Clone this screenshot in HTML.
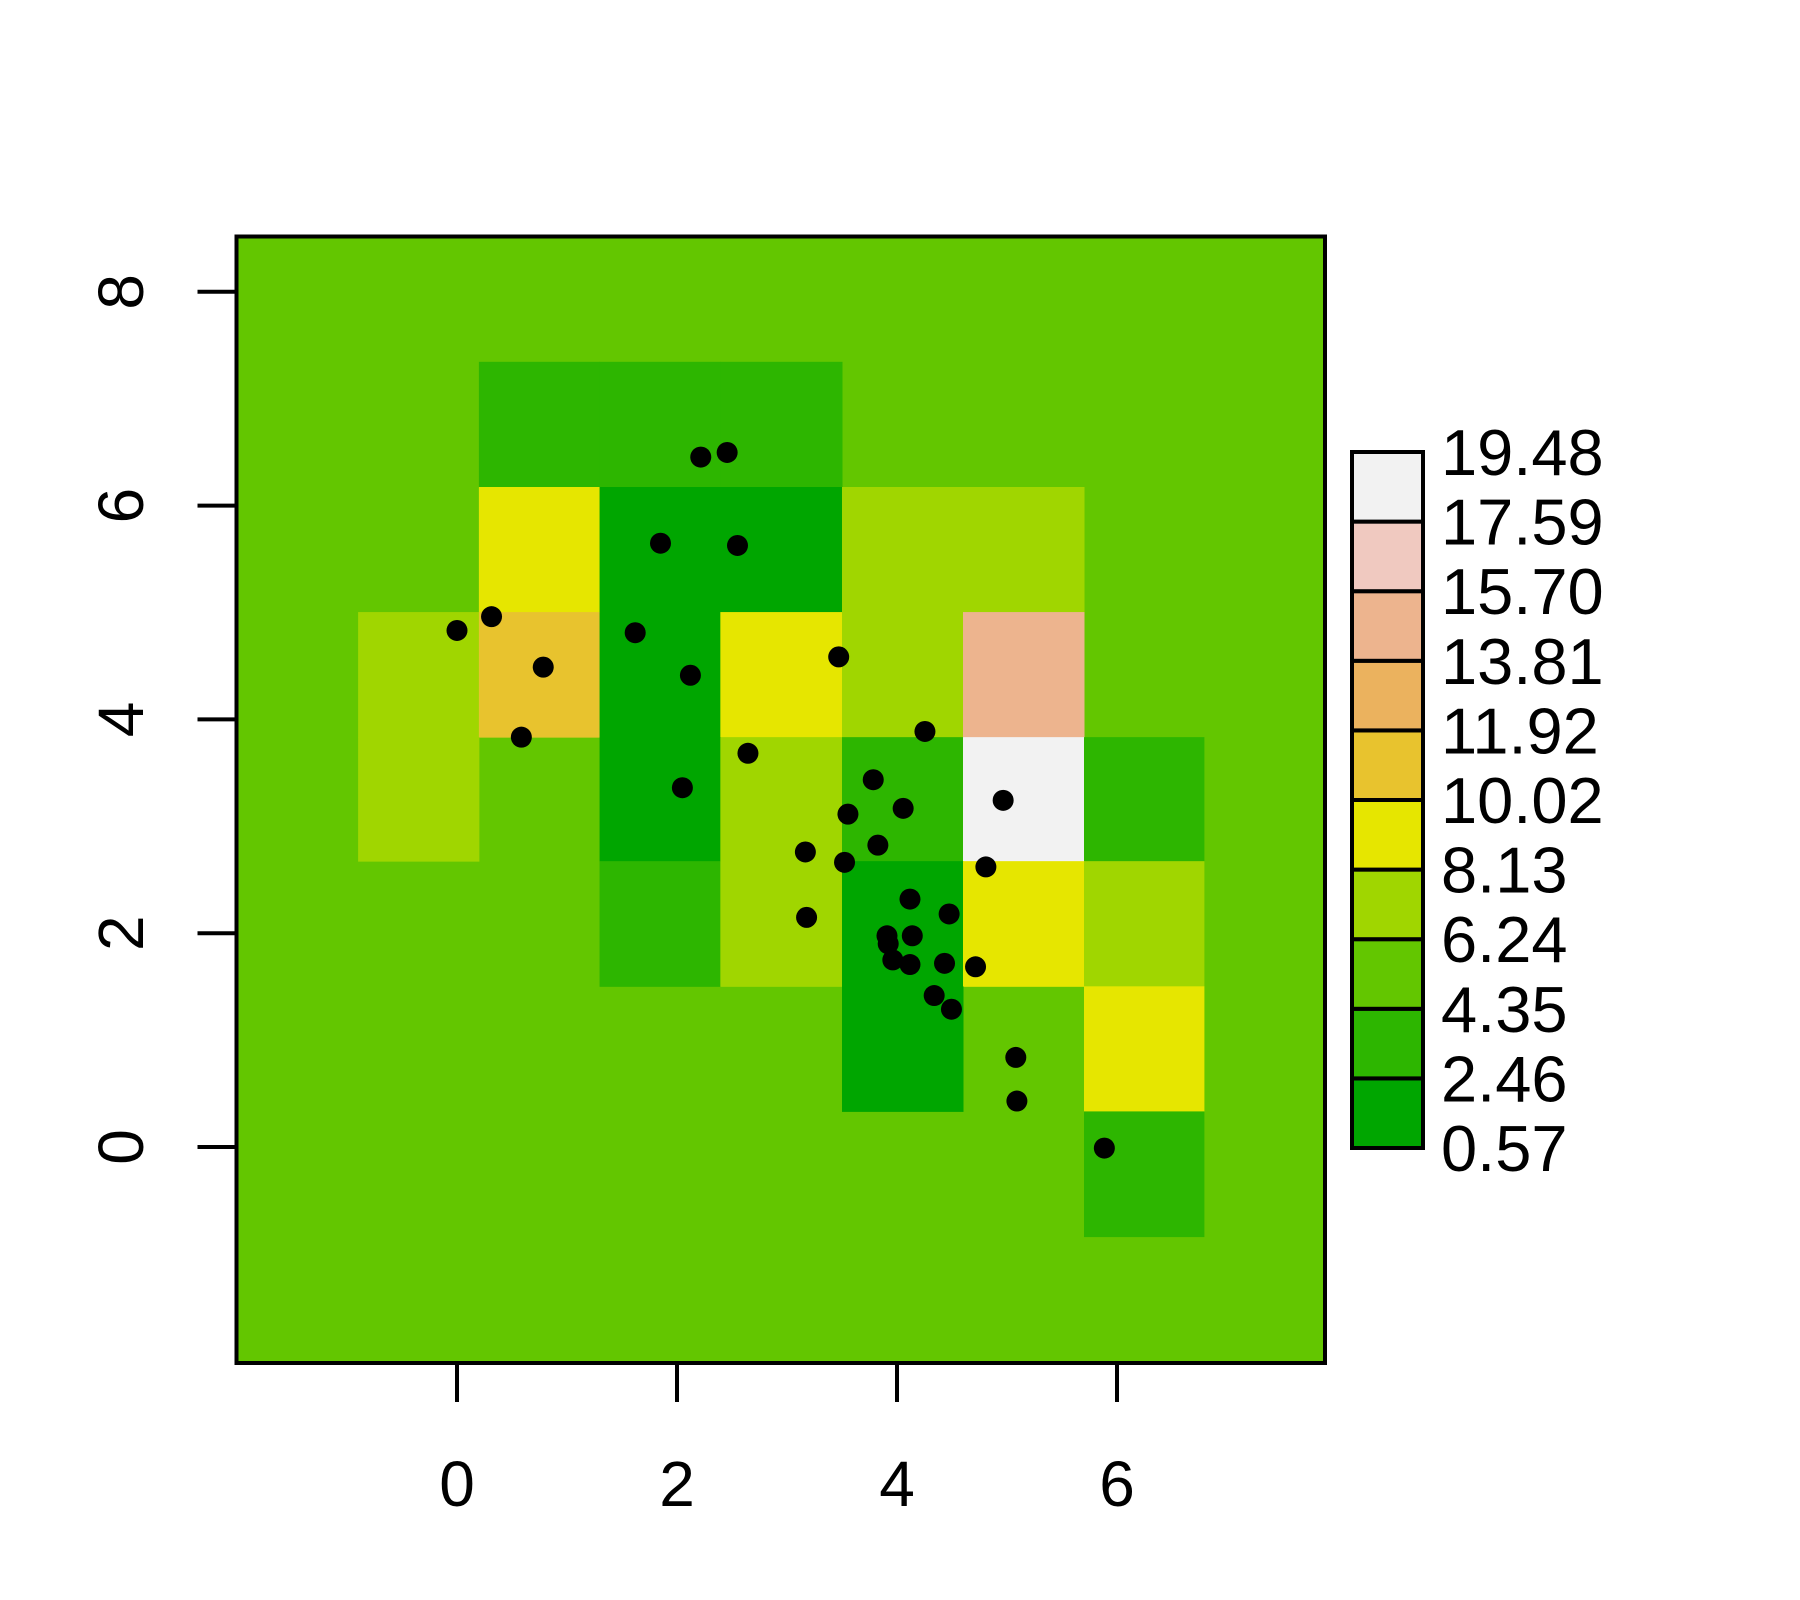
<!DOCTYPE html>
<html><head><meta charset="utf-8"><style>
html,body{margin:0;padding:0;background:#fff;}
svg{display:block;font-family:"Liberation Sans",Arial,sans-serif;}
</style></head><body>
<svg id="chart" width="1800" height="1600" viewBox="0 0 1800 1600"></svg>
<script>
// ---- data ----
const colEdges = [-0.899, 0.199, 1.296, 2.394, 3.50, 4.60, 5.70, 6.79];
const rowEdges = [7.345, 6.174, 5.004, 3.834, 2.674, 1.503, 0.333, -0.838];
const bgValue = 5.3;
// rows top->bottom, columns left->right (null = background)
const cellRow0 = [null, 3.4, 3.4, 3.4, null, null, null];
const cellRow1 = [null, 9.0, 1.5, 1.5, 7.2, 7.2, null];
const cellRow2 = [7.2, 11.0, 1.5, 9.0, 7.2, 14.7, null];
const cellRow3 = [7.2, null, 1.5, 7.2, 3.4, 18.5, 3.4];
const cellRow4 = [null, null, 3.4, 7.2, 1.5, 9.0, 7.2];
const cellRow5 = [null, null, null, null, 1.5, null, 9.0];
const cellRow6 = [null, null, null, null, null, null, 3.4];
const breaks = [0.57, 2.46, 4.35, 6.24, 8.13, 10.02, 11.92, 13.81, 15.70, 17.59, 19.48];
const breakLabels = ["0.57","2.46","4.35","6.24","8.13","10.02","11.92","13.81","15.70","17.59","19.48"];
const palette = ["#00A600","#2DB600","#63C600","#A0D600","#E6E600","#E8C32E","#EBB25E","#EDB48E","#F0C9C0","#F2F2F2"];
const pointsX = [2.216,2.456,1.850,2.550,0,0.314,0.784,0.585,1.620,2.122,2.049,3.470,2.645,4.254,3.784,3.554,4.056,3.826,3.167,3.523,4.965,4.808,3.178,4.118,4.474,3.909,3.920,4.139,3.962,4.118,4.432,4.714,4.338,4.495,5.080,5.090,5.885];
const pointsY = [6.454,6.497,5.648,5.627,4.832,4.961,4.489,3.834,4.811,4.413,3.361,4.585,3.683,3.887,3.436,3.114,3.168,2.824,2.760,2.663,3.243,2.620,2.148,2.319,2.180,1.976,1.901,1.976,1.750,1.707,1.718,1.686,1.417,1.289,0.838,0.430,-0.01];
const xTicks = [0, 2, 4, 6];
const yTicks = [0, 2, 4, 6, 8];

// ---- scales ----
const X0 = 457, XU = 110, Y0 = 1147, YU = 106.9;
const sx = v => X0 + v * XU;
const sy = v => Y0 - v * YU;
const box = {x1: 236.5, y1: 236.5, x2: 1325, y2: 1363};
const NS = "http://www.w3.org/2000/svg";
const svg = document.getElementById('chart');
function mk(tag, attrs, parent) {
  const e = document.createElementNS(NS, tag);
  for (const k in attrs) e.setAttribute(k, attrs[k]);
  (parent || svg).appendChild(e);
  return e;
}
function colorOf(v) {
  for (let i = 0; i < palette.length; i++) if (v <= breaks[i + 1]) return palette[i];
  return palette[palette.length - 1];
}

const bg = mk('rect', {x: box.x1, y: box.y1, width: box.x2 - box.x1, height: box.y2 - box.y1, fill: colorOf(bgValue)});



const rows = [cellRow0, cellRow1, cellRow2, cellRow3, cellRow4, cellRow5, cellRow6];
rows.forEach((row, r) => row.forEach((v, c) => {
  if (v === null) return;
  const x1 = sx(colEdges[c]), x2 = sx(colEdges[c + 1]);
  const y1 = sy(rowEdges[r]), y2 = sy(rowEdges[r + 1]);
  const cell = mk('rect', {x: x1, y: y1, width: x2 - x1 + 0.5, height: y2 - y1 + 0.5, fill: colorOf(v)});
  
  
}));

pointsX.forEach((px, i) => {
  const p = mk('circle', {cx: sx(px), cy: sy(pointsY[i]), r: 10.5, fill: '#000'});
  
  
});

const frame = mk('rect', {x: box.x1, y: box.y1, width: box.x2 - box.x1, height: box.y2 - box.y1, fill: 'none', stroke: '#000', 'stroke-width': 4});



xTicks.forEach(t => {
  const l = mk('line', {x1: sx(t), x2: sx(t), y1: box.y2, y2: 1402, stroke: '#000', 'stroke-width': 4});
  
  
  const tx = mk('text', {x: sx(t), y: 1506, 'font-size': 64, 'text-anchor': 'middle'});
  tx.textContent = t;
  
  
});
yTicks.forEach(t => {
  const l = mk('line', {x1: 197.5, x2: box.x1, y1: sy(t), y2: sy(t), stroke: '#000', 'stroke-width': 4});
  
  
  const tx = mk('text', {x: 0, y: 0, 'font-size': 64, 'text-anchor': 'middle', transform: `translate(143,${sy(t)}) rotate(-90)`});
  tx.textContent = t;
  
  
});

// legend
const LX = 1352, LW = 71, LT = 452, LB = 1148;
const bh = (LB - LT) / palette.length;
palette.forEach((col, i) => {
  const r = mk('rect', {x: LX, y: LB - (i + 1) * bh, width: LW, height: bh, fill: col, stroke: '#000', 'stroke-width': 4});
  
  
});
breakLabels.forEach((lab, i) => {
  const t = mk('text', {x: 1441, y: LB - i * bh + 23, 'font-size': 65});
  t.textContent = lab;
  
  
});
</script>
</body></html>
